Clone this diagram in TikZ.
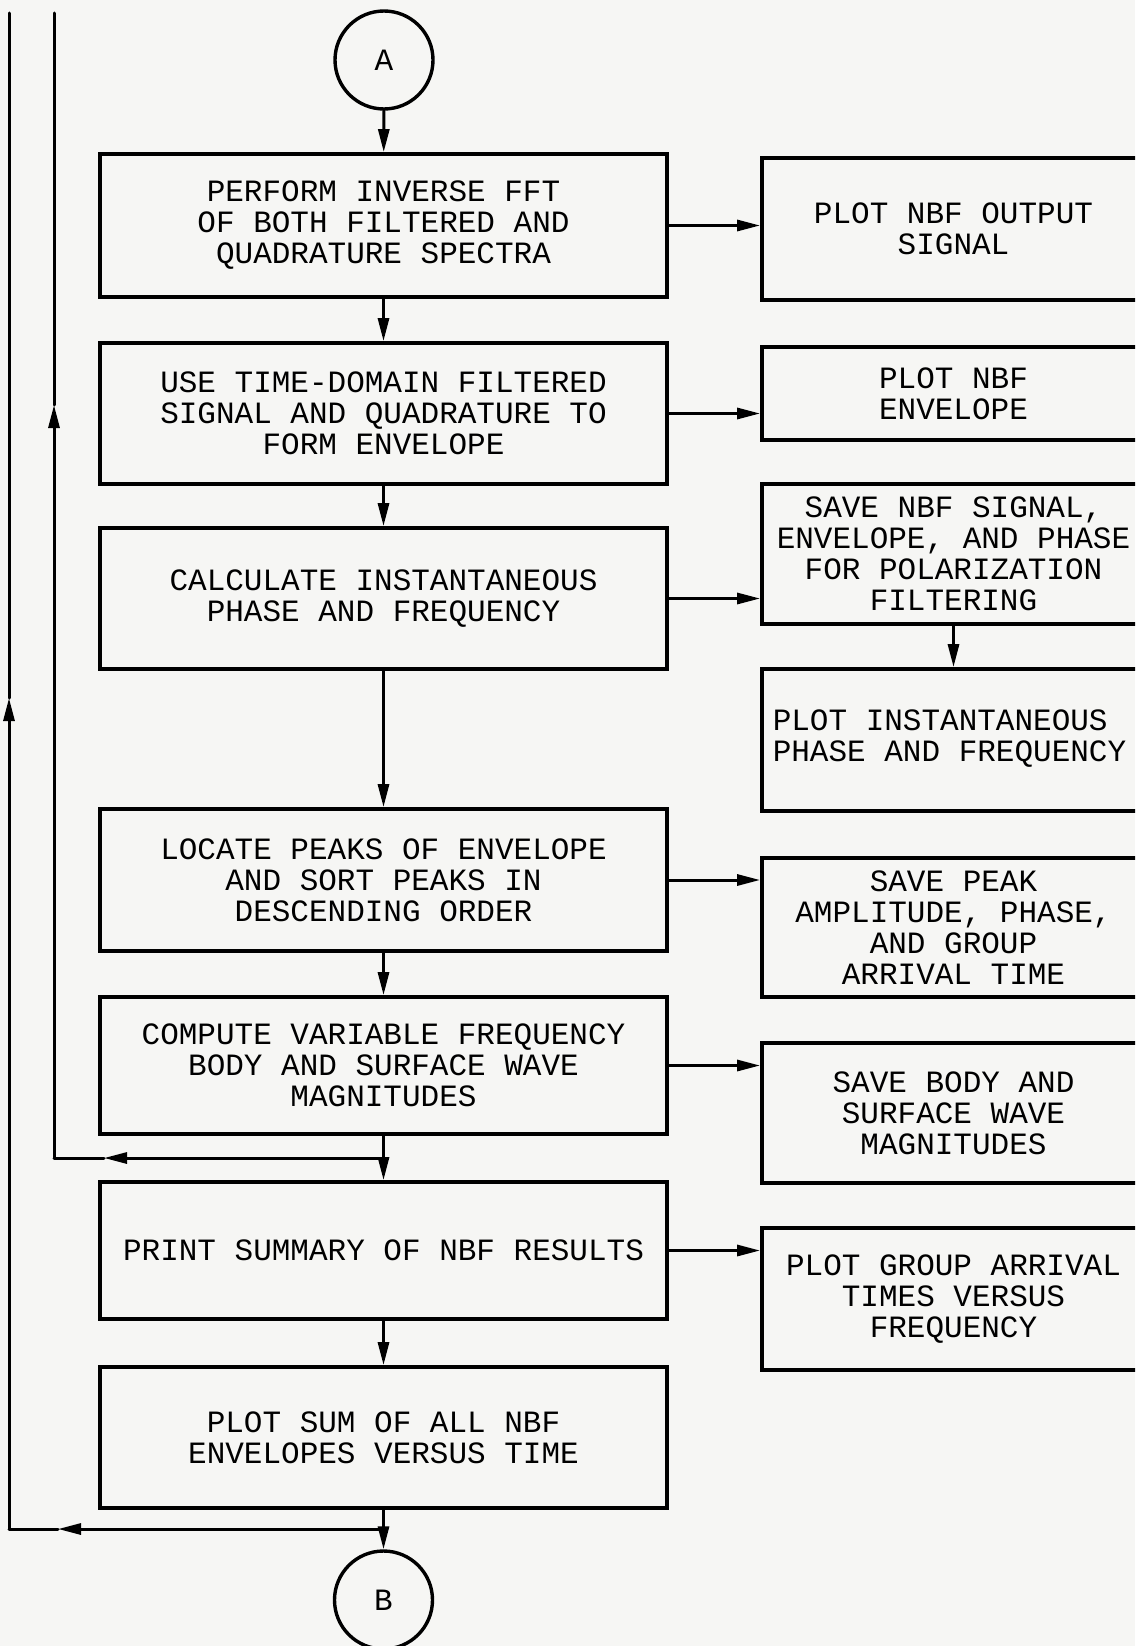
\documentclass[tikz,border=0pt]{standalone}
\usepackage{fontspec}
\setmonofont{Liberation Mono}
\usetikzlibrary{arrows.meta}
\definecolor{paper}{RGB}{246,246,244}
\begin{document}
\begin{tikzpicture}[x=1pt,y=-1pt,
  txt/.style={font=\ttfamily\fontsize{31}{31}\selectfont},
  lbox/.style={draw, line width=3.8pt, minimum width=567pt, align=center, inner sep=0pt, txt},
  rbox/.style={draw, line width=3.8pt, minimum width=383pt, align=center, inner sep=0pt, txt},
  conn/.style={line width=3pt, line cap=round},
  tip/.style={-{Triangle[length=23pt,width=11pt]}},
  conncirc/.style={circle, draw, line width=3.4pt, minimum size=98pt, inner sep=0pt, txt}]
\useasboundingbox (0,0) rectangle (1135,1646);
\fill[paper] (0,0) rectangle (1135,1646);
\clip (0,0) rectangle (1135,1646);

% connectors A, B
\node[conncirc] (A) at (384,60) {A};
\node[conncirc] (B) at (383.5,1600) {B};

% left column
\node[lbox, minimum height=143pt] (b1) at (383.5,225.5) {PERFORM INVERSE FFT\\OF BOTH FILTERED AND\\QUADRATURE SPECTRA};
\node[lbox, minimum height=141pt] (b2) at (383.5,413.5) {USE TIME-DOMAIN FILTERED\\SIGNAL AND QUADRATURE TO\\FORM ENVELOPE};
\node[lbox, minimum height=141pt] (b3) at (383.5,598.5) {CALCULATE INSTANTANEOUS\\PHASE AND FREQUENCY};
\node[lbox, minimum height=142pt] (b4) at (383.5,880) {LOCATE PEAKS OF ENVELOPE\\AND SORT PEAKS IN\\DESCENDING ORDER};
\node[lbox, minimum height=137pt] (b5) at (383.5,1065.5) {COMPUTE VARIABLE FREQUENCY\\BODY AND SURFACE WAVE\\MAGNITUDES};
\node[lbox, minimum height=137pt] (b6) at (383.5,1250.5) {PRINT SUMMARY OF NBF RESULTS};
\node[lbox, minimum height=141pt] (b7) at (383.5,1437.5) {PLOT SUM OF ALL NBF\\ENVELOPES VERSUS TIME};

% right column (right edges run off the page)
\node[rbox, minimum height=142pt] (r1) at (953.5,229) {PLOT NBF OUTPUT\\SIGNAL};
\node[rbox, minimum height=93pt] (r2) at (953.5,393.5) {PLOT NBF\\ENVELOPE};
\node[rbox, minimum height=140pt] (r3) at (953.5,554) {SAVE NBF SIGNAL,\\ENVELOPE, AND PHASE\\FOR POLARIZATION\\FILTERING};
\node[rbox, minimum height=142pt] (r4) at (953.5,740) {\hspace*{-8pt}\begin{tabular}{@{}l@{}}PLOT INSTANTANEOUS\\PHASE AND FREQUENCY\end{tabular}};
\node[rbox, minimum height=139pt] (r5) at (953.5,927.5) {SAVE PEAK\\AMPLITUDE, PHASE,\\AND GROUP\\ARRIVAL TIME};
\node[rbox, minimum height=140pt] (r6) at (953.5,1113) {SAVE BODY AND\\SURFACE WAVE\\MAGNITUDES};
\node[rbox, minimum height=142pt] (r7) at (953.5,1299) {PLOT GROUP ARRIVAL\\TIMES VERSUS\\FREQUENCY};

% main flow
\draw[conn,tip] (A) -- (b1);
\draw[conn,tip] (b1) -- (b2);
\draw[conn,tip] (b2) -- (b3);
\draw[conn,tip] (b3) -- (b4);
\draw[conn,tip] (b4) -- (b5);
\draw[conn,tip] (b5) -- (b6);
\draw[conn,tip] (b6) -- (b7);
\draw[conn,tip] (b7) -- (B);

% side outputs
\draw[conn,tip] (b1.east) -- (b1.east -| r1.west);
\draw[conn,tip] (b2.east) -- (b2.east -| r2.west);
\draw[conn,tip] (b3.east) -- (b3.east -| r3.west);
\draw[conn,tip] (r3) -- (r4);
\draw[conn,tip] (b4.east) -- (b4.east -| r5.west);
\draw[conn,tip] (b5.east) -- (b5.east -| r6.west);
\draw[conn,tip] (b6.east) -- (b6.east -| r7.west);

% inner loop
\coordinate (j1) at (383.5,1158);
\coordinate (m1) at (104,1158);
\coordinate (c1) at (54,1158);
\coordinate (u1) at (54,405);
\coordinate (t1) at (54,13);
\draw[conn,tip] (j1) -- (m1);
\draw[conn] (m1) -- (c1);
\draw[conn,tip] (c1) -- (u1);
\draw[conn] (u1) -- (t1);

% outer loop
\coordinate (j2) at (383.5,1529);
\coordinate (m2) at (58,1529);
\coordinate (c2) at (9,1529);
\coordinate (u2) at (9,698);
\coordinate (t2) at (9,13);
\draw[conn,tip] (j2) -- (m2);
\draw[conn] (m2) -- (c2);
\draw[conn,tip] (c2) -- (u2);
\draw[conn] (u2) -- (t2);
\end{tikzpicture}
\end{document}
